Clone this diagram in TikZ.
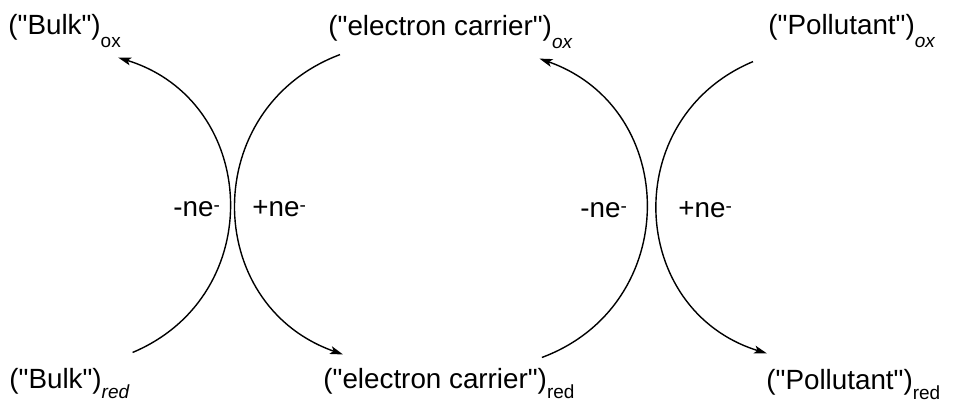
\documentclass[tikz,border=0pt]{standalone}
\usepackage{fontspec}
\setmainfont{Liberation Sans}[Ligatures=TeXOff]
\usetikzlibrary{arrows.meta}
\newcommand{\redoxsub}[1]{\raisebox{-6.5pt}{\fontsize{9.5}{9.5}\selectfont #1}}
\newcommand{\redoxsubl}[1]{\raisebox{-5pt}{\fontsize{9.5}{9.5}\selectfont #1}}
\newcommand{\esup}{\raisebox{2.2pt}{\fontsize{9.5}{9.5}\selectfont -}}

\begin{document}
\begin{tikzpicture}[
    x=0.5pt, y=0.5pt,
    every node/.style={font=\fontsize{13.9}{16}\selectfont},
    speciesNode/.style={inner sep=0pt, anchor=base west},
    transferNode/.style={inner sep=0pt, anchor=base west},
    redoxEdge/.style={draw=black, line width=0.7pt, -{Stealth[length=6.5pt, width=4pt, inset=1.5pt]}, bend right=70, looseness=1.28}
]
    \useasboundingbox (0,0) rectangle (953,-403);

    \node [speciesNode] (bulkOx) at (8,-34) {("Bulk")\redoxsub{ox}};
    \node [speciesNode] (carrierOx) at (328,-35) {("electron carrier")\redoxsub{\itshape ox}};
    \node [speciesNode] (pollutantOx) at (768,-34) {("Pollutant")\redoxsub{\itshape ox}};
    \node [speciesNode] (bulkRed) at (9,-388) {("Bulk")\redoxsubl{\itshape red}};
    \node [speciesNode] (carrierRed) at (323,-388) {("electron carrier")\redoxsubl{red}};
    \node [speciesNode] (pollutantRed) at (766,-389) {("Pollutant")\redoxsubl{red}};

    \node [transferNode] (lossA) at (173,-216) {-ne\esup};
    \node [transferNode] (gainA) at (252,-216) {+ne\esup};
    \node [transferNode] (lossB) at (580,-217) {-ne\esup};
    \node [transferNode] (gainB) at (678,-217) {+ne\esup};

    \path [redoxEdge] ([shift={(3,15)}]bulkRed.north east) to ([shift={(-3,-10)}]bulkOx.south east);
    \path [redoxEdge] ([shift={(12,-6)}]carrierOx.south west) to ([shift={(20,13)}]carrierRed.north west);
    \path [redoxEdge] ([shift={(-33,10)}]carrierRed.north east) to ([shift={(-33,-10)}]carrierOx.south east);
    \path [redoxEdge] ([shift={(-15,-14)}]pollutantOx.south west) to ([shift={(1,15)}]pollutantRed.north west);
\end{tikzpicture}
\end{document}
